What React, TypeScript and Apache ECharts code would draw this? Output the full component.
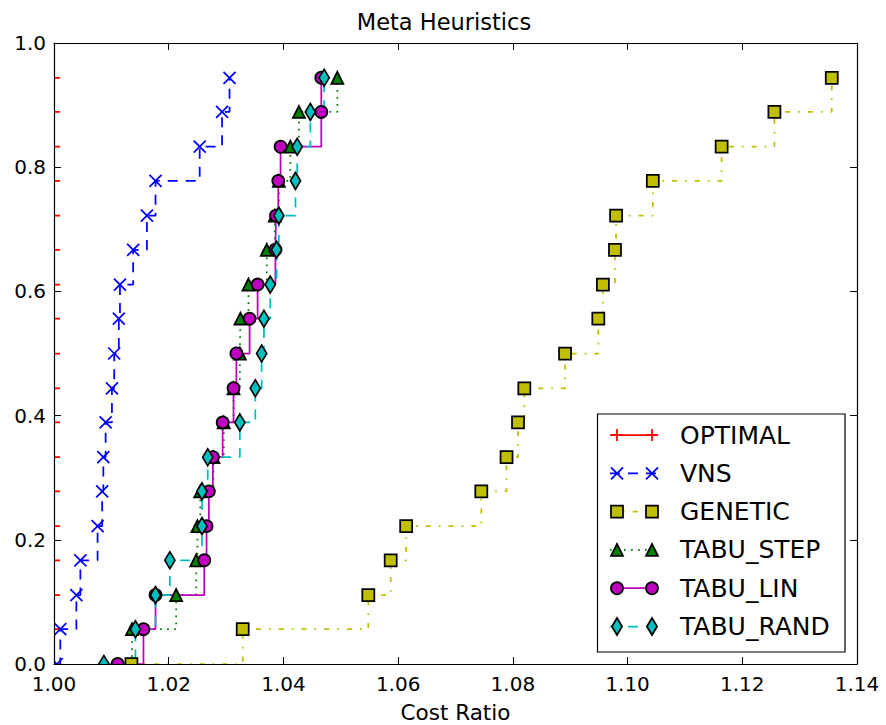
import React, { useEffect, useRef } from "react";
import * as echarts from "echarts";

const seriesNames = ["OPTIMAL", "VNS", "GENETIC", "TABU_STEP", "TABU_LIN", "TABU_RAND"];
const yLevels = [0.0, 0.056, 0.111, 0.167, 0.222, 0.278, 0.333, 0.389, 0.444, 0.5, 0.556, 0.611, 0.667, 0.722, 0.778, 0.833, 0.889, 0.944];
const optimal = [1.0, 1.0, 1.0, 1.0, 1.0, 1.0, 1.0, 1.0, 1.0, 1.0, 1.0, 1.0, 1.0, 1.0, 1.0, 1.0, 1.0, 1.0];
const vns = [1.0005, 1.0011, 1.0039, 1.0046, 1.0076, 1.0084, 1.0086, 1.009, 1.0101, 1.0105, 1.0113, 1.0115, 1.0138, 1.0162, 1.0177, 1.0254, 1.0293, 1.0306];
const genetic = [1.0135, 1.0329, 1.0548, 1.0587, 1.0614, 1.0745, 1.0789, 1.0809, 1.082, 1.0891, 1.0949, 1.0957, 1.0978, 1.098, 1.1044, 1.1164, 1.1256, 1.1356];
const tabuStep = [1.0087, 1.0136, 1.0213, 1.0248, 1.025, 1.0255, 1.0278, 1.0296, 1.0313, 1.0324, 1.0325, 1.0339, 1.0371, 1.0385, 1.0392, 1.0412, 1.0427, 1.0494];
const tabuLin = [1.0111, 1.0156, 1.0177, 1.0262, 1.0266, 1.027, 1.0277, 1.0294, 1.0313, 1.0318, 1.0341, 1.0355, 1.0386, 1.0387, 1.0391, 1.0395, 1.0466, 1.0466];
const tabuRand = [1.0087, 1.0142, 1.0177, 1.0202, 1.0258, 1.0258, 1.0268, 1.0324, 1.0351, 1.0362, 1.0366, 1.0377, 1.0388, 1.0392, 1.0421, 1.0424, 1.0447, 1.0471];
const xTicks = { min: 1.0, max: 1.14, interval: 0.02 };
const yTicks = { min: 0, max: 1.0, interval: 0.2 };

const FONT = "DejaVu Sans";
const MS = 12;
const EW = 1.75;
const LW = 1.75;

const PLUS = "path://M5,0L5,10M0,5L10,5";
const CROSS = "path://M0,0L10,10M10,0L0,10";

type Style = {
  color: string;
  dash: number[] | "solid";
  symbol: string;
  size: number | number[];
  stroked: boolean;
};

const styles: Style[] = [
  { color: "#ff0000", dash: "solid", symbol: PLUS, size: MS, stroked: true },
  { color: "#0000ff", dash: [10, 8], symbol: CROSS, size: MS, stroked: true },
  { color: "#bfbf00", dash: [5, 8, 1.75, 8], symbol: "rect", size: MS, stroked: false },
  { color: "#008000", dash: [1.75, 5.25], symbol: "triangle", size: MS, stroked: false },
  { color: "#bf00bf", dash: "solid", symbol: "circle", size: MS, stroked: false },
  { color: "#00bfbf", dash: [10, 8], symbol: "diamond", size: [MS * 0.85, MS * 1.414], stroked: false },
];

const allX = [optimal, vns, genetic, tabuStep, tabuLin, tabuRand];

function legendMarker(i: number, cx: number, cy: number): any[] {
  const s = styles[i];
  const h = MS / 2;
  const z = 11;
  if (i === 0) {
    return [
      { type: "line", z, shape: { x1: cx - h, y1: cy, x2: cx + h, y2: cy }, style: { stroke: s.color, lineWidth: EW } },
      { type: "line", z, shape: { x1: cx, y1: cy - h, x2: cx, y2: cy + h }, style: { stroke: s.color, lineWidth: EW } },
    ];
  }
  if (i === 1) {
    return [
      { type: "line", z, shape: { x1: cx - h, y1: cy - h, x2: cx + h, y2: cy + h }, style: { stroke: s.color, lineWidth: EW } },
      { type: "line", z, shape: { x1: cx - h, y1: cy + h, x2: cx + h, y2: cy - h }, style: { stroke: s.color, lineWidth: EW } },
    ];
  }
  const st = { fill: s.color, stroke: "#000", lineWidth: EW };
  if (i === 2) return [{ type: "rect", z, shape: { x: cx - h, y: cy - h, width: MS, height: MS }, style: st }];
  if (i === 3)
    return [{ type: "polygon", z, shape: { points: [[cx, cy - h], [cx + h, cy + h], [cx - h, cy + h]] }, style: st }];
  if (i === 4) return [{ type: "circle", z, shape: { cx, cy, r: h }, style: st }];
  const dw = (MS * 0.85) / 2;
  const dh = (MS * 1.414) / 2;
  return [{ type: "polygon", z, shape: { points: [[cx, cy - dh], [cx + dw, cy], [cx, cy + dh], [cx - dw, cy]] }, style: st }];
}

export default function App() {
  const ref = useRef<HTMLDivElement>(null);
  useEffect(() => {
    if (!ref.current) return;
    const chart = echarts.init(ref.current, undefined, { renderer: "svg" });

    const gridL = 54, gridR = 29, gridT = 43, gridB = 61;
    const W = 886, H = 725;

    const series: any[] = allX.map((xs, i) => {
      const s = styles[i];
      return {
        name: seriesNames[i],
        type: "line",
        step: "end",
        data: xs.map((x, k) => [x, yLevels[k]]),
        symbol: s.symbol,
        symbolSize: s.size,
        showAllSymbol: true,
        clip: false,
        silent: true,
        z: 2,
        lineStyle: { color: s.color, width: LW, type: s.dash },
        itemStyle: s.stroked
          ? { color: s.color, borderColor: s.color, borderWidth: EW }
          : { color: s.color, borderColor: "#000", borderWidth: EW },
        emphasis: { disabled: true },
      };
    });

    const legX = 597.5, legY = 414, legW = 247.5, legH = 238;
    const rowY0 = 435, rowGap = 38.3;
    const legendEls: any[] = [
      { type: "rect", z: 10, shape: { x: legX, y: legY, width: legW, height: legH }, style: { fill: "#fff", stroke: "#000", lineWidth: 1.2 } },
    ];
    seriesNames.forEach((nm, i) => {
      const cy = rowY0 + i * rowGap;
      const s = styles[i];
      legendEls.push({
        type: "line",
        z: 11,
        shape: { x1: 610, y1: cy, x2: 658, y2: cy },
        style: { stroke: s.color, lineWidth: LW, lineDash: s.dash === "solid" ? null : s.dash },
      });
      legendEls.push(...legendMarker(i, 617, cy));
      legendEls.push(...legendMarker(i, 652, cy));
      legendEls.push({
        type: "text",
        z: 11,
        x: 680,
        y: cy,
        style: { text: nm, fill: "#000", font: `25px '${FONT}'`, textVerticalAlign: "middle", verticalAlign: "middle" },
      });
    });

    const axisCommon = {
      type: "value",
      z: 3,
      splitLine: { show: false },
      axisLine: { show: true, onZero: false, lineStyle: { color: "#000", width: 1.2 } },
      axisTick: { show: true, inside: true, length: 7, lineStyle: { color: "#000", width: 1 } },
    };

    chart.setOption({
      animation: false,
      title: {
        text: "Meta Heuristics",
        left: 444,
        top: 10,
        padding: 0,
        textAlign: "center",
        textStyle: { fontFamily: FONT, fontSize: 22.5, fontWeight: "normal", color: "#000" },
      },
      grid: { left: gridL, right: gridR, top: gridT, bottom: gridB, containLabel: false, outerBoundsMode: "none" },
      xAxis: [
        {
          ...axisCommon,
          position: "bottom",
          min: xTicks.min,
          max: xTicks.max,
          interval: xTicks.interval,
          name: "Cost Ratio",
          nameLocation: "middle",
          nameGap: 37,
          nameTextStyle: { fontFamily: FONT, fontSize: 21.5, color: "#000" },
          axisLabel: { fontFamily: FONT, fontSize: 20, color: "#000", margin: 10, formatter: (v: number) => v.toFixed(2) },
        },
        {
          ...axisCommon,
          position: "top",
          min: xTicks.min,
          max: xTicks.max,
          interval: xTicks.interval,
          axisLabel: { show: false },
        },
      ],
      yAxis: [
        {
          ...axisCommon,
          position: "left",
          min: yTicks.min,
          max: yTicks.max,
          interval: yTicks.interval,
          axisLabel: { fontFamily: FONT, fontSize: 20, color: "#000", margin: 8, formatter: (v: number) => v.toFixed(1) },
        },
        {
          ...axisCommon,
          position: "right",
          min: yTicks.min,
          max: yTicks.max,
          interval: yTicks.interval,
          axisLabel: { show: false },
        },
      ],
      series,
      graphic: [
        { type: "rect", z: 2.5, silent: true, shape: { x: 0, y: H - gridB, width: W, height: gridB }, style: { fill: "#fff" } },
        { type: "rect", z: 2.5, silent: true, shape: { x: 0, y: 0, width: gridL, height: H }, style: { fill: "#fff" } },
        ...legendEls,
      ],
    });
    return () => chart.dispose();
  }, []);
  return <div ref={ref} style={{ position: "fixed", left: 0, top: 0, width: 886, height: 725, background: "#fff" }} />;
}
